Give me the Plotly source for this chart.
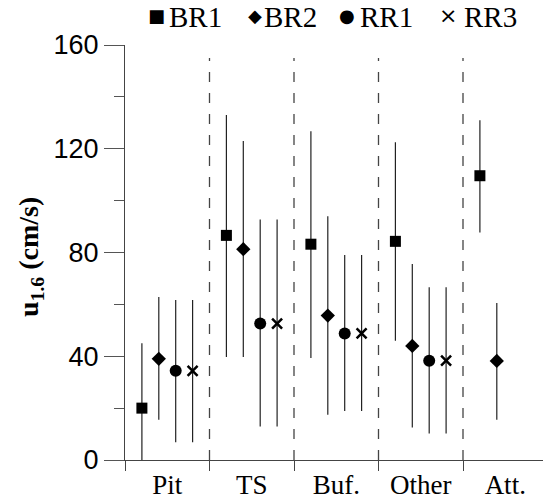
import plotly.graph_objects as go

categories = ["Pit", "TS", "Buf.", "Other", "Att."]
series = ["BR1", "BR2", "RR1", "RR3"]

BR1_mean = [20, 86.6, 83.2, 84.3, 109.6]
BR1_low = [0, 39.7, 39.3, 46, 87.7]
BR1_high = [45, 133, 126.7, 122.5, 131]

BR2_mean = [39, 81.3, 55.7, 44, 38.2]
BR2_low = [15.5, 39.7, 17.4, 12.5, 15.5]
BR2_high = [62.8, 123, 94, 75.6, 60.5]

RR1_mean = [34.4, 52.6, 48.8, 38.3, None]
RR1_low = [6.8, 12.9, 18.9, 10.2, None]
RR1_high = [61.7, 92.7, 79, 66.6, None]

RR3_mean = [34.4, 52.6, 48.8, 38.3, None]
RR3_low = [6.8, 12.9, 18.9, 10.2, None]
RR3_high = [61.7, 92.7, 79, 66.6, None]

y_ticks = [0, 40, 80, 120, 160]

data = {
    "BR1": (BR1_mean, BR1_low, BR1_high),
    "BR2": (BR2_mean, BR2_low, BR2_high),
    "RR1": (RR1_mean, RR1_low, RR1_high),
    "RR3": (RR3_mean, RR3_low, RR3_high),
}
symbols = {"BR1": "square", "BR2": "diamond", "RR1": "circle", "RR3": "x-thin"}
sizes = {"BR1": 11, "BR2": 11, "RR1": 12, "RR3": 10}

fig = go.Figure()
n = len(series)
for i, s in enumerate(series):
    m, lo, hi = data[s]
    off = (i - (n - 1) / 2) * 0.2
    xs, ys, ep, em = [], [], [], []
    for j in range(len(categories)):
        if m[j] is None:
            continue
        xs.append(j + off)
        ys.append(m[j])
        ep.append(hi[j] - m[j])
        em.append(m[j] - lo[j])
    mk = dict(symbol=symbols[s], size=sizes[s], color="black")
    if s == "RR3":
        mk["line"] = dict(color="black", width=2.5)
    fig.add_trace(go.Scatter(
        x=xs, y=ys, mode="markers", name=s, marker=mk,
        error_y=dict(type="data", symmetric=False, array=ep, arrayminus=em,
                     width=0, thickness=1.2, color="#222"),
        showlegend=False, cliponaxis=False,
    ))

# dashed separators between categories
for k in range(len(categories) - 1):
    fig.add_shape(type="line", xref="x", yref="y", x0=k + 0.5, x1=k + 0.5,
                  y0=0, y1=155, line=dict(color="#444", width=1.3, dash="10px,11px"),
                  layer="below")

W, H = 543, 500
ml, mr, mt, mb = 125, 0, 45, 32
pw, ph = W - ml - mr, H - mt - mb


def px(X):
    return (X - ml) / pw


def py(Y):
    return (H - mb - Y) / ph


serif = "Liberation Serif, Times New Roman, serif"
ann = []
# legend: (symbol, symbol font size, symbol centre x, label, label left x)
legend_items = [("■", 18, 156, "BR1", 167), ("◆", 18, 255, "BR2", 262),
                ("●", 18, 347, "RR1", 358), ("×", 22, 448, "RR3", 462)]
for sym, fs, sx, lab, lx in legend_items:
    ann.append(dict(
        text=sym, xref="paper", yref="paper", x=px(sx), y=py(15),
        xanchor="center", yanchor="middle", showarrow=False,
        font=dict(family="DejaVu Sans", size=fs, color="black"),
    ))
    ann.append(dict(
        text=lab, xref="paper", yref="paper", x=px(lx), y=py(16),
        xanchor="left", yanchor="middle", showarrow=False,
        font=dict(family=serif, size=29, color="black"),
    ))
ann.append(dict(
    text="<b>u<sub>1.6</sub> (cm/s)</b>", textangle=-90,
    xref="paper", yref="paper", x=px(31), y=py(261), xanchor="center", yanchor="middle",
    showarrow=False, font=dict(family=serif, size=28, color="black"),
))

fig.update_layout(
    width=W, height=H, margin=dict(l=ml, r=mr, t=mt, b=mb, pad=0),
    paper_bgcolor="white", plot_bgcolor="white",
    annotations=ann,
    xaxis=dict(
        range=[-0.5, -0.5 + pw / 84.5], showgrid=False, zeroline=False,
        tickmode="array", tickvals=list(range(len(categories))), ticktext=categories,
        ticks="", tickfont=dict(family=serif, size=27, color="black"),
        showline=True, linecolor="#444", linewidth=1.2,
        minor=dict(tickmode="array", tickvals=[k - 0.5 for k in range(len(categories))],
                   ticks="outside", ticklen=10, tickcolor="#444", tickwidth=1.2, showgrid=False),
        ticklabelstandoff=0,
    ),
    yaxis=dict(
        range=[0, 160], showgrid=False, zeroline=False,
        tickmode="array", tickvals=y_ticks,
        ticks="outside", ticklen=20, tickcolor="#555", tickwidth=1.2,
        tickfont=dict(family="Liberation Sans, Arial, sans-serif", size=27, color="black"),
        showline=True, linecolor="#444", linewidth=1.2,
        minor=dict(dtick=20, ticks="outside", ticklen=10, tickcolor="#555", tickwidth=1.2, showgrid=False),
    ),
)

fig.write_html("out.html")
